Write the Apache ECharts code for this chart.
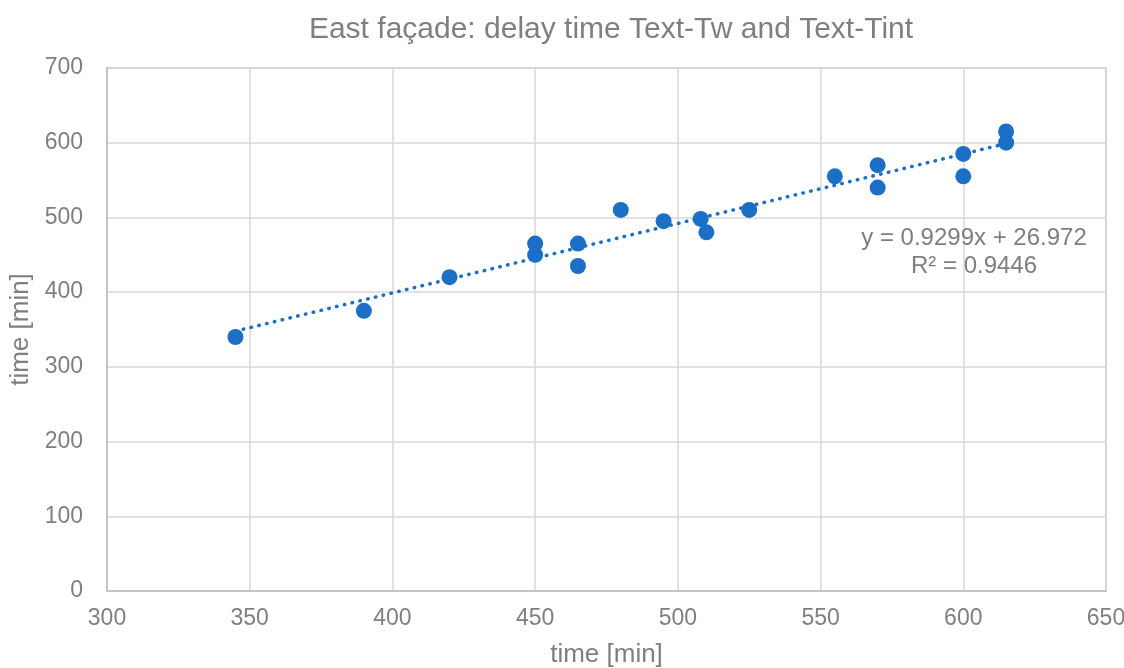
<!DOCTYPE html>
<html><head><meta charset="utf-8">
<script src="https://cdn.jsdelivr.net/npm/echarts@6/dist/echarts.min.js"></script>
<style>html,body{margin:0;padding:0;background:#fff}#c{width:1124px;height:668px}</style>
</head><body><div id="c"></div>
<script>
const xValues = [345, 390, 420, 450, 450, 465, 465, 480, 495, 508, 510, 525, 555, 570, 570, 600, 600, 615, 615];
const yValues = [340, 375, 420, 465, 450, 465, 435, 510, 495, 498, 480, 510, 555, 570, 540, 585, 555, 615, 600];
const trendSlope = 0.9299;
const trendIntercept = 26.972;
const trendLabel = ['y = 0.9299x + 26.972', 'R² = 0.9446'];
const titleText = 'East façade: delay time Text-Tw and Text-Tint';
const xName = 'time [min]';
const yName = 'time [min]';

const points = xValues.map((x, i) => [x, yValues[i]]);
const xMin = Math.min(...xValues), xMax = Math.max(...xValues);
const trend = [[xMin, trendSlope * xMin + trendIntercept], [xMax, trendSlope * xMax + trendIntercept]];

const txt = '#7f7f7f';
const font = 'Liberation Sans, Arial, sans-serif';
const chart = echarts.init(document.getElementById('c'), null, {renderer: 'canvas'});
chart.setOption({
  animation: false,
  title: {text: titleText, left: 606, top: 10, textAlign: 'center',
    textStyle: {color: txt, fontSize: 30, fontWeight: 'normal', fontFamily: font}},
  grid: {left: 107, right: 18, top: 68, bottom: 77, show: true, borderColor: '#bfbfbf', borderWidth: 1.5,
    containLabel: false, outerBoundsMode: 'none'},
  xAxis: {type: 'value', min: 300, max: 650, interval: 50,
    name: xName, nameLocation: 'middle', nameGap: 51,
    nameTextStyle: {color: txt, fontSize: 26, fontFamily: font},
    axisLine: {show: true, lineStyle: {color: '#bfbfbf', width: 1.5}}, axisTick: {show: false},
    axisLabel: {color: txt, fontSize: 23, fontFamily: font, margin: 16},
    splitLine: {show: true, lineStyle: {color: '#d9d9d9', width: 1.5}}},
  yAxis: {type: 'value', min: 0, max: 700, interval: 100,
    name: yName, nameLocation: 'middle', nameGap: 66,
    nameTextStyle: {color: txt, fontSize: 26, fontFamily: font},
    axisLine: {show: true, lineStyle: {color: '#bfbfbf', width: 1.5}}, axisTick: {show: false},
    axisLabel: {color: txt, fontSize: 23, fontFamily: font, margin: 24},
    splitLine: {show: true, lineStyle: {color: '#d9d9d9', width: 1.5}}},
  series: [
    {type: 'line', data: trend, symbol: 'none', silent: true, z: 1,
      lineStyle: {color: '#1c6fc6', width: 3.5, type: [0.5, 7.5], cap: 'round'}},
    {type: 'scatter', data: points, symbol: 'circle', symbolSize: 16, z: 2,
      itemStyle: {color: '#1c6fc6', opacity: 1}}
  ],
  graphic: [{type: 'text', x: 974, y: 224, z: 10,
    style: {text: trendLabel.join('\n'), align: 'center', verticalAlign: 'top', fill: txt, fontSize: 24, fontFamily: font, lineHeight: 28}}]
});
</script></body></html>
